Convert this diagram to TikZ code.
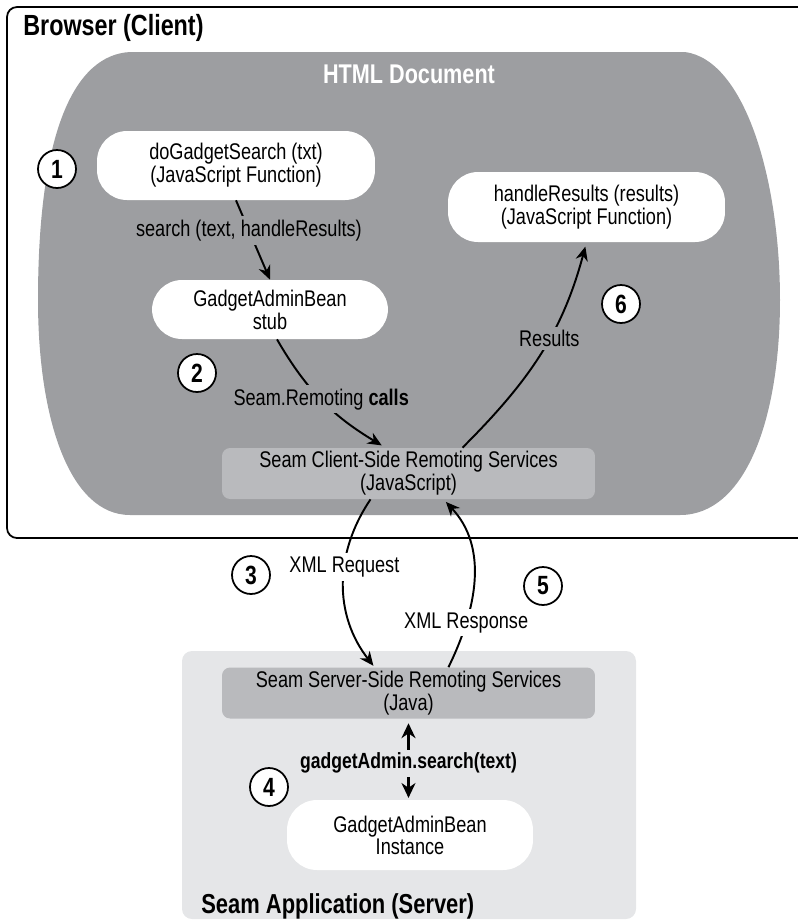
\documentclass[tikz,border=0pt]{standalone}
\usepackage{fontspec}
\setmainfont{Liberation Sans}[FakeStretch=0.8]
\usetikzlibrary{arrows.meta}
\definecolor{docgray}{HTML}{9D9EA1}
\definecolor{boxgray}{HTML}{B9BABD}
\definecolor{srvgray}{HTML}{E5E6E8}

\begin{document}
\begin{tikzpicture}[x=0.02cm, y=-0.02cm, font=\fontsize{12.9}{11}\selectfont,
  pill/.style={fill=white, rounded corners=0.6cm, align=center, inner sep=0pt, minimum height=1.4cm},
  svc/.style={fill=boxgray, rounded corners=0.16cm, align=center, inner sep=0pt, minimum width=7.46cm, minimum height=1.02cm},
  flow/.style={-{Stealth[length=8pt, width=7pt]}, line width=1.1pt},
  twoway/.style={{Stealth[length=8.5pt, width=8pt]}-{Stealth[length=8.5pt, width=8pt]}, line width=1.3pt},
  lab/.style={fill=#1, inner sep=2pt},
  num/.style={circle, draw, line width=1pt, fill=white, inner sep=0pt, minimum size=0.76cm, font=\fontsize{15}{15}\selectfont\bfseries},
  title/.style={font=\fontsize{#1}{#1}\selectfont\bfseries, inner sep=0pt}]
\useasboundingbox (0,0) rectangle (798,921);

% ---- browser frame and html document
\draw[line width=1pt, rounded corners=0.2cm] (798,7) -- (7,7) -- (7,538) -- (798,538);
\node[title=16.6, anchor=base west] (brtitle) at (23,35) {Browser (Client)};
\fill[docgray] (130,52) -- (685,52) .. controls (745,60) and (780,180) .. (780,300)
  .. controls (780,420) and (745,515) .. (680,515) -- (130,515)
  .. controls (70,515) and (38,420) .. (38,300) .. controls (38,130) and (75,55) .. (130,52) -- cycle;
\node[title=15.4, text=white, anchor=base] (doctitle) at (409,83) {HTML Document};

% ---- server region
\fill[srvgray, rounded corners=0.2cm] (182,651) rectangle (636,919);
\node[title=15.6, anchor=base west] (srvtitle) at (201,913) {Seam Application (Server)};

% ---- boxes
\node[pill, minimum width=5.56cm, minimum height=1.38cm] (dosearch) at (236,165.5) {doGadgetSearch (txt)\\(JavaScript Function)};
\node[pill, minimum width=4.72cm, minimum height=1.18cm] (stub) at (270,309.5) {GadgetAdminBean\\stub};
\node[pill, minimum width=5.54cm] (handle) at (586.5,207) {handleResults (results)\\(JavaScript Function)};
\node[svc] (client) at (408.5,473.5) {Seam Client-Side Remoting Services\\(JavaScript)};
\node[svc] (server) at (408.5,693) {Seam Server-Side Remoting Services\\(Java)};
\node[pill, minimum width=4.92cm] (inst) at (410,835) {GadgetAdminBean\\Instance};

% ---- flows
\draw[flow] (dosearch.south) -- node[lab=docgray, pos=0.38] {search (text, handleResults)} (stub.north);
\draw[flow, shorten >=2.5pt] ([xshift=0.14cm]stub.south) to[out=-60, in=149]
  node[lab=docgray, pos=0.48] {Seam.Remoting \textbf{calls}} ([xshift=-0.46cm]client.north);
\draw[flow, shorten >=2.5pt] ([xshift=1.08cm]client.north) to[out=45, in=-105]
  node[lab=docgray, pos=0.58] {Results} (handle.south);
\draw[flow, shorten >=1pt] ([xshift=-0.76cm]client.south) to[out=-124, in=128]
  node[lab=white, pos=0.4] {XML Request} ([xshift=-0.68cm]server.north);
\draw[flow, shorten >=2pt] ([xshift=0.8cm]server.north) to[out=64, in=-47]
  node[lab=white, pos=0.25] {XML Response} ([xshift=0.7cm]client.south);
\draw[twoway, shorten <=2.5pt, shorten >=1pt] (server.south) -- node[lab=srvgray, inner ysep=2pt, pos=0.55, font=\fontsize{12.5}{12.5}\selectfont\bfseries] {gadgetAdmin.search(text)} (server.south |- inst.north);

% ---- step numbers
\node[num] (n1) at (57,169) {1};
\node[num] (n2) at (197,373) {2};
\node[num] (n3) at (251,575) {3};
\node[num] (n4) at (269,787) {4};
\node[num] (n5) at (543,586) {5};
\node[num] (n6) at (621,304) {6};
\end{tikzpicture}
\end{document}
